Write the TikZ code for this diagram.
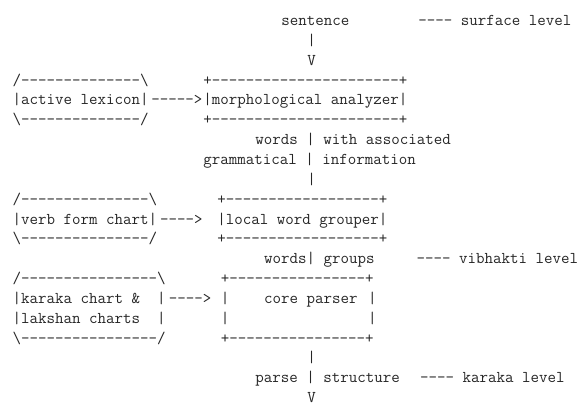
\documentclass[tikz,border=0pt]{standalone}
\usepackage{fontspec}
\tikzset{
  frag/.style={anchor=base west, inner sep=0pt, outer sep=0pt,
    font=\ttfamily\fontsize{16.5pt}{20pt}\selectfont, text=black!85}
}
% #1 name, #2 column, #3 line, #4 text
\newcommand\frag[4]{\node[frag] (#1) at ({(12.7+#2*8.67)*1pt},{-(25.5+#3*19.85)*1pt}) {#4};}
\begin{document}
\begin{tikzpicture}
\useasboundingbox (0,0) rectangle (581pt,-405pt);
% line 0-2
\frag{sent}{31}{0}{sentence}
\frag{surf}{46.8}{0}{---- surface level}
\frag{p1}{34}{1}{|}
\frag{v1}{34}{2}{V}
% lines 3-5
\frag{lexT}{0}{3}{/--------------\textbackslash}
\frag{morphT}{22}{3}{+----------------------+}
\frag{lex}{0}{4}{|active lexicon|}
\frag{arr1}{16}{4}{----->}
\frag{morph}{22}{4}{|morphological analyzer|}
\frag{lexB}{0}{5}{\textbackslash--------------/}
\frag{morphB}{22}{5}{+----------------------+}
% lines 6-8
\frag{words1}{28}{6}{words | with associated}
\frag{gram}{22}{7}{grammatical | information}
\frag{p2}{34}{8}{|}
% lines 9-11
\frag{verbT}{0}{9}{/---------------\textbackslash}
\frag{lwgT}{23.6}{9}{+------------------+}
\frag{verb}{0}{10}{|verb form chart|}
\frag{arr2}{17}{10}{---->}
\frag{lwg}{23.6}{10}{|local word grouper|}
\frag{verbB}{0}{11}{\textbackslash---------------/}
\frag{lwgB}{23.6}{11}{+------------------+}
% line 12
\frag{words2}{29}{12}{words| groups}
\frag{vib}{46.6}{12}{---- vibhakti level}
% lines 13-16
\frag{karT}{0}{13}{/----------------\textbackslash}
\frag{cpT}{24}{13}{+----------------+}
\frag{kar}{0}{14}{|karaka chart \&~~|}
\frag{arr3}{18}{14}{---->}
\frag{cpL1}{24}{14}{|}
\frag{core}{29}{14}{core parser}
\frag{cpR1}{41}{14}{|}
\frag{lak}{0}{15}{|lakshan charts~~|}
\frag{cpL2}{24}{15}{|}
\frag{cpR2}{41}{15}{|}
\frag{karB}{0}{16}{\textbackslash----------------/}
\frag{cpB}{24}{16}{+----------------+}
% lines 17-19
\frag{p3}{34}{17}{|}
\frag{parse}{28}{18}{parse | structure}
\frag{karlev}{47}{18}{---- karaka level}
\frag{v2}{34}{19}{V}
\end{tikzpicture}
\end{document}
